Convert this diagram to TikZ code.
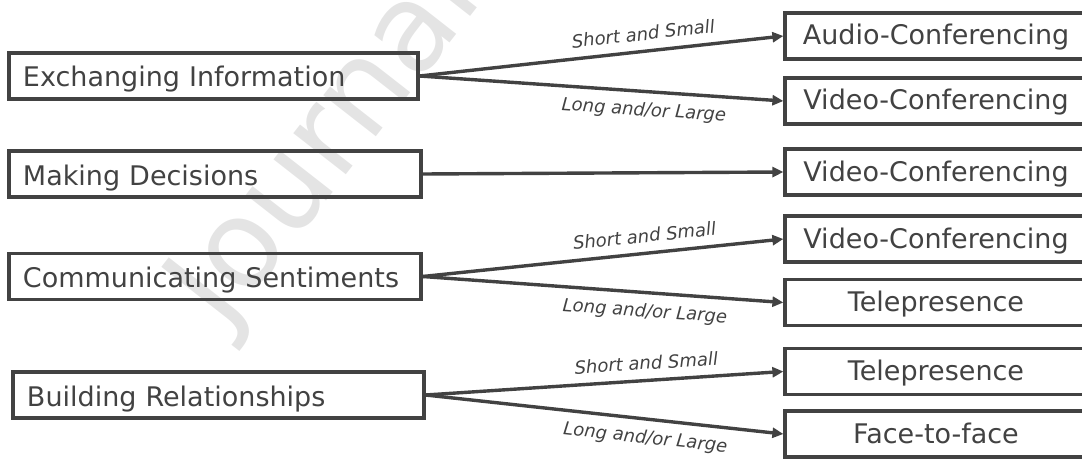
\documentclass[tikz,border=0pt]{standalone}
\usepackage{fontspec}
\setmainfont{DejaVu Sans}
\usetikzlibrary{arrows.meta}
\definecolor{ink}{RGB}{66,66,66}
\definecolor{wmark}{RGB}{228,228,228}
\tikzset{
  box/.style={draw=ink, text=ink, line width=3.2pt, minimum height=46pt,
    inner xsep=14pt, inner ysep=0pt, font=\fontsize{27}{30}\selectfont},
  srcbox/.style={box, align=left, text width=#1-28pt, text height=22pt, text depth=0pt},
  dstbox/.style={box, align=center, text width=302pt-28pt, text height=18pt, text depth=0pt},
  conn/.style={draw=ink, line width=3.4pt,
    -{Triangle[length=11pt,width=10pt]}},
  lbl/.style={text=ink, sloped, font=\fontsize{18}{20}\selectfont\itshape, inner sep=3pt}
}
\begin{document}
\begin{tikzpicture}[x=1pt,y=-1pt]
\useasboundingbox (0,0) rectangle (1082,460);
\begin{scope}
\clip (0,0) rectangle (1082,460);
% faint watermark behind everything
\node[text=wmark, rotate=52, font=\fontsize{122}{124}\selectfont, anchor=base west]
  (wm) at (222,334) {Journal};

% source activities
\node[srcbox=409pt] (ex) at (213.5,76) {Exchanging Information};
\node[srcbox=412pt] (md) at (215,174) {Making Decisions};
\node[srcbox=412pt] (cs) at (215,276.5) {Communicating Sentiments};
\node[srcbox=411pt] (br) at (218.5,395) {Building Relationships};

% media choices
\node[dstbox] (a1) at (936,36) {Audio-Conferencing};
\node[dstbox] (v1) at (936,101) {Video-Conferencing};
\node[dstbox] (v2) at (936,172) {Video-Conferencing};
\node[dstbox] (v3) at (936,239) {Video-Conferencing};
\node[dstbox] (t1) at (936,302.5) {Telepresence};
\node[dstbox] (t2) at (936,371.5) {Telepresence};
\node[dstbox] (ff) at (936,434) {Face-to-face};

% connectors
\draw[conn] (ex.east) -- node[lbl, pos=0.62, above=6pt] {Short and Small} (a1.west);
\draw[conn] (ex.east) -- node[lbl, pos=0.62, below=6pt] {Long and/or Large} (v1.west);
\draw[conn] (md.east) -- (v2.west);
\draw[conn] (cs.east) -- node[lbl, pos=0.62, above=6pt] {Short and Small} (v3.west);
\draw[conn] (cs.east) -- node[lbl, pos=0.62, below=6pt] {Long and/or Large} (t1.west);
\draw[conn] (br.east) -- node[lbl, pos=0.62, above=6pt] {Short and Small} (t2.west);
\draw[conn] (br.east) -- node[lbl, pos=0.62, below=6pt] {Long and/or Large} (ff.west);
\end{scope}
\end{tikzpicture}
\end{document}
